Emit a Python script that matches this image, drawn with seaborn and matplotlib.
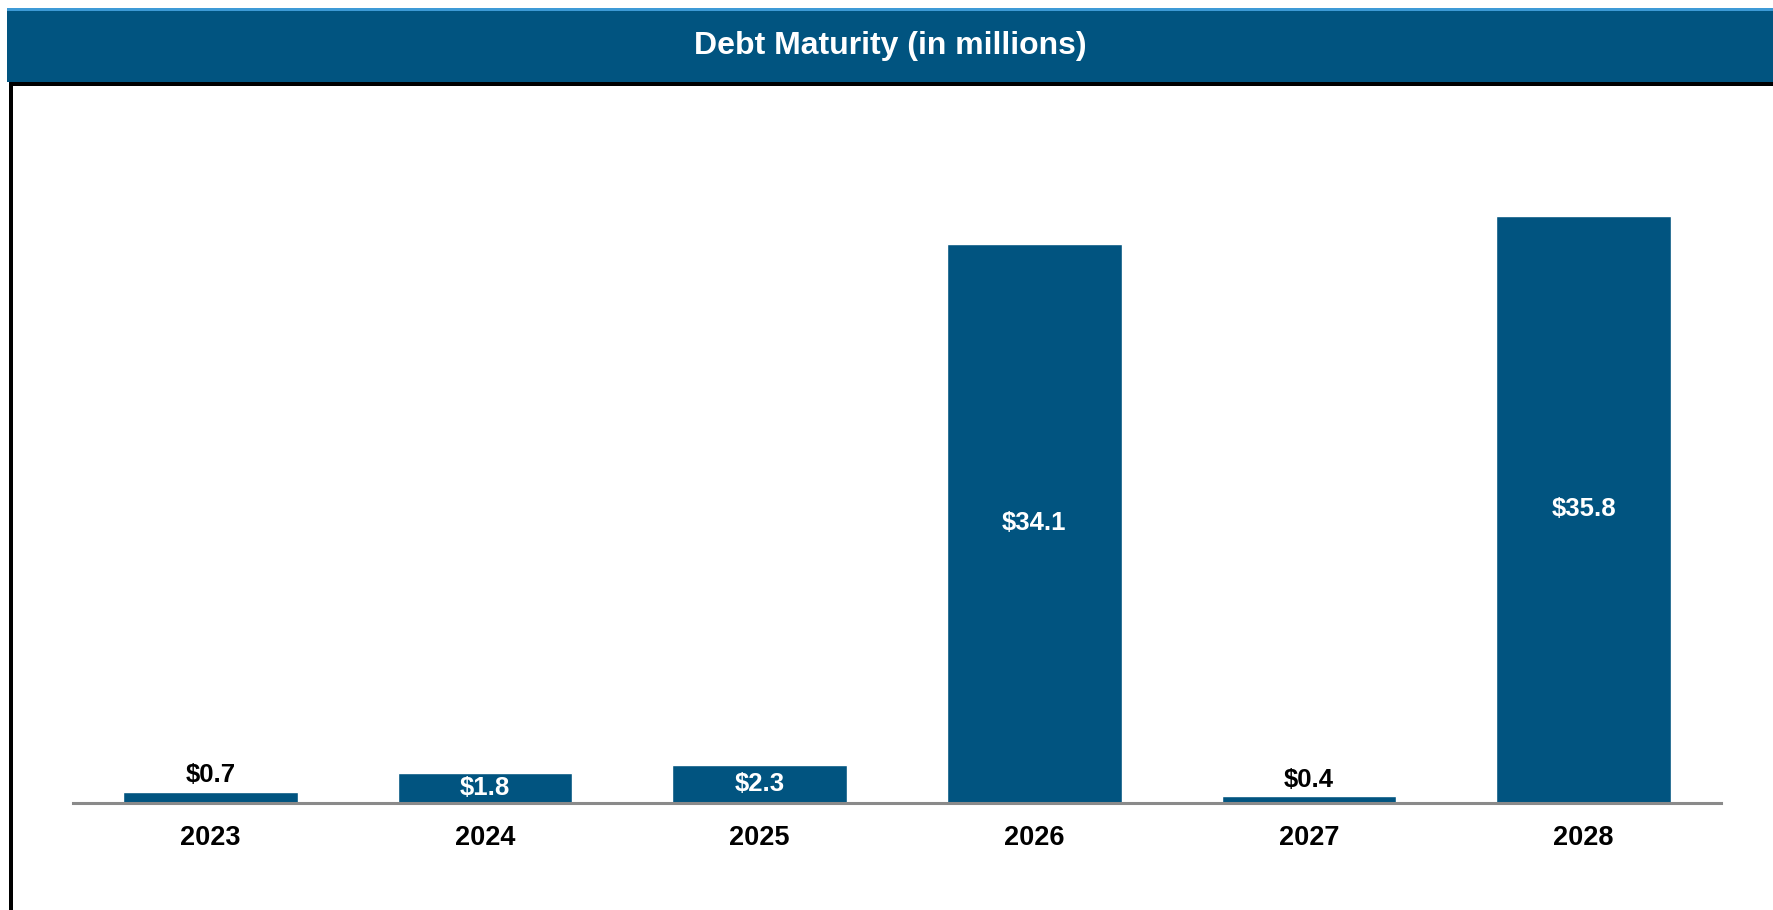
import matplotlib
matplotlib.use("Agg")
import matplotlib.pyplot as plt
from matplotlib.patches import Rectangle
import seaborn as sns
import pandas as pd

years = ["2023", "2024", "2025", "2026", "2027", "2028"]
maturities = [0.7, 1.8, 2.3, 34.1, 0.4, 35.8]
title = "Debt Maturity (in millions)"

NAVY = "#015480"
W, H = 1773, 910

sns.set_theme(style="white")
plt.rcParams["font.family"] = ["Liberation Sans", "DejaVu Sans"]

fig = plt.figure(figsize=(W / 100, H / 100), dpi=100)
fig.patch.set_facecolor("white")

def fx(px):
    return px / W

def fy(py):
    return 1 - py / H

# header band
fig.patches.append(Rectangle((fx(7), fy(82)), 1 - fx(7), fy(8) - fy(82),
                             transform=fig.transFigure, facecolor=NAVY,
                             edgecolor="none", zorder=0))
fig.patches.append(Rectangle((fx(7), fy(10.5)), 1 - fx(7), fy(8) - fy(10.5),
                             transform=fig.transFigure, facecolor="#3d9ad6",
                             edgecolor="none", zorder=1))
fig.patches.append(Rectangle((fx(9), fy(86)), 1 - fx(9), fy(82) - fy(86),
                             transform=fig.transFigure, facecolor="black",
                             edgecolor="none", zorder=1))
# left frame line
fig.patches.append(Rectangle((fx(9), 0), fx(12.5) - fx(9), fy(84),
                             transform=fig.transFigure, facecolor="black",
                             edgecolor="none", zorder=1))
fig.text(fx(890), fy(46), title, color="white", fontsize=23,
         fontweight="bold", ha="center", va="center")

px_per_unit = 16.4
top_px = 100
ax = fig.add_axes([fx(73), fy(803), fx(1721) - fx(73), (803 - top_px) / H])
df = pd.DataFrame({"year": years, "amount": maturities})
sns.barplot(data=df, x="year", y="amount", color=NAVY, saturation=1,
            width=0.637, ax=ax, errorbar=None)
ax.set_xlim(-0.5, len(years) - 0.5)
ax.set_ylim(0, (803 - top_px) / px_per_unit)
for s in ["top", "right", "left"]:
    ax.spines[s].set_visible(False)
ax.spines["bottom"].set_color("#8a8a8a")
ax.spines["bottom"].set_linewidth(2.2)
ax.set_yticks([])
ax.set_xlabel("")
ax.set_ylabel("")
ax.tick_params(axis="x", length=0, pad=16, labelsize=19.5)
for lbl in ax.get_xticklabels():
    lbl.set_fontweight("bold")
    lbl.set_color("black")

for i, v in enumerate(maturities):
    text = f"${v:.1f}"
    if v < 1:
        ax.annotate(text, (i, v), xytext=(0, 3), textcoords="offset points",
                    ha="center", va="bottom", fontsize=18.5, fontweight="bold",
                    color="black")
    else:
        ax.text(i, v / 2, text, ha="center", va="center", fontsize=18.5,
                fontweight="bold", color="white")

fig.savefig("out.png", dpi=100, facecolor="white")
